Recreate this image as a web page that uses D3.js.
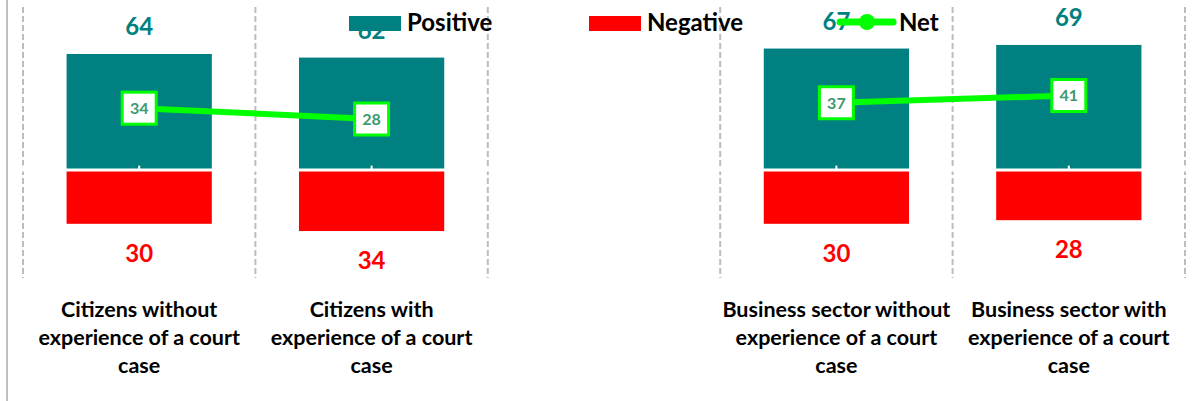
<!DOCTYPE html>
<html>
<head>
<meta charset="utf-8">
<script src="https://cdn.jsdelivr.net/npm/d3@7"></script>
<style>
  body { margin: 0; background: #fff; }
  text { font-family: Lato, "Open Sans", sans-serif; font-weight: bold; }
</style>
</head>
<body>
<div id="chart"></div>
<script>
var categories = [
  "Citizens without\nexperience of a court\ncase",
  "Citizens with\nexperience of a court\ncase",
  "",
  "Business sector without\nexperience of a court\ncase",
  "Business sector with\nexperience of a court\ncase"
];
var positive = [64, 62, null, 67, 69];
var negative = [30, 34, null, 30, 28];
var net = [34, 28, null, 37, 41];

var W = 1203, H = 401;
var teal = '#008080', red = '#ff0000', lime = '#00ff00';

var svg = d3.select('#chart').append('svg')
  .attr('width', W)
  .attr('height', H);

var x = d3.scaleBand().domain(d3.range(categories.length)).range([23, 1185]).padding(0);
var y = d3.scaleLinear().domain([-60, 90]).range([278, 7]);
var bw = x.bandwidth() * 0.625;
var cx = function(i) { return x(i) + x.bandwidth() / 2; };

// left border of the chart area
svg.append('line')
  .attr('x1', 7).attr('x2', 7).attr('y1', 0).attr('y2', H)
  .attr('stroke', '#bfbfbf').attr('stroke-width', 2);

// dashed vertical separators
var bounds = d3.range(categories.length + 1).map(function(i) { return x.range()[0] + i * x.bandwidth(); });
svg.selectAll('line.grid').data(bounds).enter().append('line')
  .attr('class', 'grid')
  .attr('x1', function(d) { return d; })
  .attr('x2', function(d) { return d; })
  .attr('y1', y(90)).attr('y2', y(-60))
  .attr('stroke', '#bdbdbd').attr('stroke-width', 2)
  .attr('stroke-dasharray', '6,3');

var idx = d3.range(categories.length);

svg.selectAll('rect.pos').data(idx.filter(function(i) { return positive[i] != null; }))
  .enter().append('rect')
  .attr('class', 'pos')
  .attr('x', function(i) { return cx(i) - bw / 2; })
  .attr('y', function(i) { return y(positive[i]); })
  .attr('width', bw)
  .attr('height', function(i) { return y(0) - y(positive[i]); })
  .attr('fill', teal);

svg.selectAll('rect.neg').data(idx.filter(function(i) { return negative[i] != null; }))
  .enter().append('rect')
  .attr('class', 'neg')
  .attr('x', function(i) { return cx(i) - bw / 2; })
  .attr('y', y(0))
  .attr('width', bw)
  .attr('height', function(i) { return y(-negative[i]) - y(0); })
  .attr('fill', red);

// white zero axis with small ticks
var axis = svg.append('g')
  .attr('transform', 'translate(0,' + y(0) + ')')
  .call(d3.axisBottom(x).tickSize(-4).tickFormat(''));
axis.select('.domain').attr('stroke', '#fff').attr('stroke-width', 3);
axis.selectAll('.tick line').attr('stroke', '#fff').attr('stroke-width', 2);

// value labels
svg.selectAll('text.posLbl').data(idx.filter(function(i) { return positive[i] != null; }))
  .enter().append('text')
  .attr('x', cx)
  .attr('y', function(i) { return y(positive[i]) - 19; })
  .attr('text-anchor', 'middle')
  .attr('font-size', 24)
  .attr('fill', teal)
  .text(function(i) { return positive[i]; });

svg.selectAll('text.negLbl').data(idx.filter(function(i) { return negative[i] != null; }))
  .enter().append('text')
  .attr('x', cx)
  .attr('y', function(i) { return y(-negative[i]) + 38; })
  .attr('text-anchor', 'middle')
  .attr('font-size', 24)
  .attr('fill', red)
  .text(function(i) { return negative[i]; });

// net line
var line = d3.line()
  .defined(function(i) { return net[i] != null; })
  .x(cx)
  .y(function(i) { return y(net[i]); });

svg.append('path')
  .datum(idx)
  .attr('d', line)
  .attr('fill', 'none')
  .attr('stroke', lime)
  .attr('stroke-width', 6);

var nets = svg.selectAll('g.net').data(idx.filter(function(i) { return net[i] != null; }))
  .enter().append('g')
  .attr('class', 'net')
  .attr('transform', function(i) { return 'translate(' + cx(i) + ',' + y(net[i]) + ')'; });
nets.append('rect')
  .attr('x', -17).attr('y', -16).attr('width', 34).attr('height', 32)
  .attr('fill', '#fff').attr('stroke', lime).attr('stroke-width', 3);
nets.append('text')
  .attr('text-anchor', 'middle')
  .attr('dy', '0.36em')
  .attr('font-size', 16)
  .attr('fill', '#3d9970')
  .text(function(i) { return net[i]; });

// category labels
svg.selectAll('text.cat').data(idx)
  .enter().append('text')
  .attr('class', 'cat')
  .attr('text-anchor', 'middle')
  .attr('font-size', 21.5)
  .attr('fill', '#000')
  .each(function(i) {
    var t = d3.select(this);
    categories[i].split('\n').forEach(function(s, k) {
      if (!s) return;
      t.append('tspan').attr('x', cx(i)).attr('y', 317 + k * 28).text(s);
    });
  });

// legend
var legend = svg.append('g');
legend.append('rect').attr('x', 349).attr('y', 16).attr('width', 52).attr('height', 15).attr('fill', teal);
legend.append('text').attr('x', 407).attr('y', 31).attr('font-size', 24).text('Positive');
legend.append('rect').attr('x', 589).attr('y', 16).attr('width', 52).attr('height', 15).attr('fill', red);
legend.append('text').attr('x', 647).attr('y', 31).attr('font-size', 24).text('Negative');
legend.append('line').attr('x1', 840).attr('x2', 893).attr('y1', 22).attr('y2', 22)
  .attr('stroke', lime).attr('stroke-width', 7).attr('stroke-linecap', 'round');
legend.append('circle').attr('cx', 867).attr('cy', 22).attr('r', 8).attr('fill', lime);
legend.append('text').attr('x', 899).attr('y', 31).attr('font-size', 24).text('Net');
</script>
</body>
</html>
